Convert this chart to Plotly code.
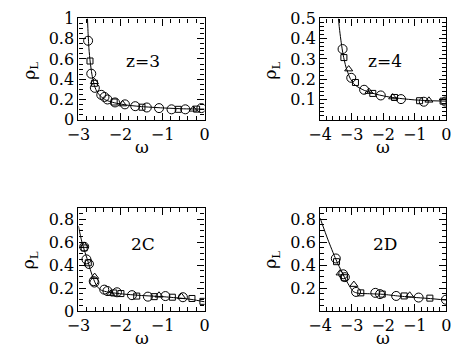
import plotly.graph_objects as go

W, H = 458, 356
FONT = "DejaVu Serif"

# ---------------- data ----------------
# panel z=3
z3_curve_x = [-2.785, -2.77, -2.75, -2.72, -2.68, -2.63, -2.57, -2.48, -2.35, -2.15, -1.85, -1.5, -1.0, -0.5, 0.0]
z3_curve_y = [1.0, 0.85, 0.7, 0.57, 0.45, 0.35, 0.285, 0.235, 0.195, 0.168, 0.145, 0.13, 0.117, 0.108, 0.105]
z3_circ_x = [-2.77, -2.695, -2.61, -2.457, -2.38, -2.31, -2.13, -1.894, -1.649, -1.374, -1.083, -0.786, -0.458, -0.076]
z3_circ_y = [0.78, 0.455, 0.315, 0.246, 0.225, 0.2, 0.171, 0.152, 0.134, 0.121, 0.115, 0.103, 0.103, 0.115]
z3_sq_x = [-2.725, -2.62, -2.15, -1.489, -0.625, -0.19]
z3_sq_y = [0.58, 0.36, 0.175, 0.124, 0.103, 0.105]
z3_tri_x = [-2.62, -1.95, -0.27]
z3_tri_y = [0.375, 0.155, 0.103]

# panel z=4
z4_curve_x = [-3.42, -3.38, -3.33, -3.27, -3.18, -3.05, -2.9, -2.6, -2.2, -1.8, -1.4, -1.0, -0.5, 0.0]
z4_curve_y = [0.5, 0.44, 0.38, 0.32, 0.26, 0.205, 0.172, 0.145, 0.125, 0.112, 0.104, 0.098, 0.094, 0.092]
z4_circ_x = [-3.288, -3.013, -2.605, -2.076, -1.435, -0.712, -0.03]
z4_circ_y = [0.349, 0.207, 0.148, 0.12, 0.102, 0.089, 0.09]
z4_sq_x = [-3.246, -2.88, -2.33, -1.64, -0.846, -0.1]
z4_sq_y = [0.307, 0.184, 0.13, 0.11, 0.094, 0.092]
z4_tri_x = [-3.094, -2.452, -1.7, -0.55]
z4_tri_y = [0.25, 0.139, 0.112, 0.096]

# panel 2C
c2_curve_x = [-3.0, -2.93, -2.86, -2.78, -2.7, -2.62, -2.55, -2.45, -2.3, -2.0, -1.5, -1.0, -0.6, -0.3, 0.0]
c2_curve_y = [0.74, 0.62, 0.53, 0.44, 0.34, 0.26, 0.21, 0.18, 0.165, 0.15, 0.135, 0.125, 0.112, 0.1, 0.08]
c2_circ_x = [-2.864, -2.81, -2.75, -2.636, -2.62, -2.386, -2.31, -2.084, -1.727, -1.348, -0.932, -0.516]
c2_circ_y = [0.56, 0.45, 0.41, 0.26, 0.248, 0.186, 0.174, 0.163, 0.138, 0.125, 0.13, 0.12]
c2_sq_x = [-2.864, -2.766, -2.16, -1.99, -1.614, -1.198, -0.766, -0.3, -0.04]
c2_sq_y = [0.55, 0.42, 0.157, 0.152, 0.13, 0.125, 0.12, 0.109, 0.084]
c2_tri_x = [-2.86, -2.614, -2.234, -1.084, -0.55]
c2_tri_y = [0.57, 0.30, 0.152, 0.137, 0.125]

# panel 2D
d2_curve_x = [-4.0, -3.75, -3.5, -3.2, -2.95, -2.8, -2.4, -2.0, -1.5, -1.0, -0.5, 0.0]
d2_curve_y = [0.81, 0.62, 0.45, 0.28, 0.17, 0.155, 0.15, 0.145, 0.13, 0.118, 0.108, 0.095]
d2_circ_x = [-3.502, -3.267, -3.215, -2.86, -2.25, -2.1, -1.588, -0.876, -0.01]
d2_circ_y = [0.458, 0.32, 0.295, 0.166, 0.158, 0.147, 0.131, 0.117, 0.098]
d2_sq_x = [-3.48, -3.23, -2.71, -2.03, -1.334, -0.52]
d2_sq_y = [0.43, 0.29, 0.158, 0.147, 0.131, 0.112]
d2_tri_x = [-3.368, -2.93, -1.16]
d2_tri_y = [0.33, 0.23, 0.137]

panel_labels = ["z=3", "z=4", "2C", "2D"]
x_ranges = [[-3, 0], [-4, 0], [-3, 0], [-4, 0]]
y_ranges = [[0, 1], [0, 0.5], [0, 0.9], [0, 0.9]]
x_ticks = [[-3, -2, -1, 0], [-4, -3, -2, -1, 0], [-3, -2, -1, 0], [-4, -3, -2, -1, 0]]
y_ticks = [[0, 0.2, 0.4, 0.6, 0.8, 1], [0.1, 0.2, 0.3, 0.4, 0.5],
           [0, 0.2, 0.4, 0.6, 0.8], [0.2, 0.4, 0.6, 0.8]]
y_minor = [0.05, 0.02, 0.05, 0.05]

panels = [
    (z3_curve_x, z3_curve_y, z3_circ_x, z3_circ_y, z3_sq_x, z3_sq_y, z3_tri_x, z3_tri_y),
    (z4_curve_x, z4_curve_y, z4_circ_x, z4_circ_y, z4_sq_x, z4_sq_y, z4_tri_x, z4_tri_y),
    (c2_curve_x, c2_curve_y, c2_circ_x, c2_circ_y, c2_sq_x, c2_sq_y, c2_tri_x, c2_tri_y),
    (d2_curve_x, d2_curve_y, d2_circ_x, d2_circ_y, d2_sq_x, d2_sq_y, d2_tri_x, d2_tri_y),
]

# layout boxes in pixels (left, right, top, bottom)
boxes = [(69, 200, 10, 117), (320, 451, 10, 117), (69, 200, 210, 319), (320, 451, 210, 319)]

fig = go.Figure()
for i, (cx, cy, ox, oy, sx, sy, tx, ty) in enumerate(panels):
    n = "" if i == 0 else str(i + 1)
    xa, ya = "x" + n, "y" + n
    fig.add_trace(go.Scatter(x=cx, y=cy, mode="lines", line=dict(color="black", width=1, shape="spline", smoothing=0.6),
                             xaxis=xa, yaxis=ya, showlegend=False, hoverinfo="skip"))
    fig.add_trace(go.Scatter(x=ox, y=oy, mode="markers",
                             marker=dict(symbol="circle-open", size=9, color="black", line=dict(width=1)),
                             xaxis=xa, yaxis=ya, showlegend=False))
    fig.add_trace(go.Scatter(x=sx, y=sy, mode="markers",
                             marker=dict(symbol="square-open", size=6, color="black", line=dict(width=1)),
                             xaxis=xa, yaxis=ya, showlegend=False))
    fig.add_trace(go.Scatter(x=tx, y=ty, mode="markers",
                             marker=dict(symbol="triangle-up-open", size=7, color="black", line=dict(width=1)),
                             xaxis=xa, yaxis=ya, showlegend=False))

layout = dict(width=W, height=H, margin=dict(l=0, r=0, t=0, b=0),
              paper_bgcolor="white", plot_bgcolor="white",
              font=dict(family=FONT, size=16, color="black"), annotations=[])
for i, (l, r, t, b) in enumerate(boxes):
    n = "" if i == 0 else str(i + 1)
    base = dict(showline=True, linecolor="black", linewidth=1.2, mirror="allticks",
                ticks="inside", ticklen=7, tickwidth=1.2, tickcolor="black",
                showgrid=False, zeroline=False, tickfont=dict(family=FONT, size=16))
    layout["xaxis" + n] = dict(base, domain=[l / W, r / W], range=x_ranges[i], anchor="y" + n,
                               tickmode="array", tickvals=x_ticks[i],
                               minor=dict(ticks="inside", ticklen=4, dtick=0.2, tickcolor="black"))
    layout["yaxis" + n] = dict(base, domain=[1 - b / H, 1 - t / H], range=y_ranges[i], anchor="x" + n,
                               tickmode="array", tickvals=y_ticks[i],
                               minor=dict(ticks="inside", ticklen=4, dtick=y_minor[i], tickcolor="black"))
    cxp = (l + r) / 2
    ann = dict(xref="paper", yref="paper", showarrow=False, xanchor="center", yanchor="middle")
    layout["annotations"].append(dict(ann, text=panel_labels[i], x=(cxp + 2) / W,
                                      y=1 - (t + 45 if i < 2 else t + 38) / H,
                                      font=dict(family=FONT, size=17)))
    layout["annotations"].append(dict(ann, text="ω", x=cxp / W, y=1 - (b + 29) / H,
                                      font=dict(family=FONT, size=17)))
    layout["annotations"].append(dict(ann, text="ρ<sub>L</sub>", x=(l - 50) / W, y=1 - (t + 55) / H,
                                      textangle=-90, font=dict(family=FONT, size=17)))
fig.update_layout(**layout)
fig.write_html("out.html")
